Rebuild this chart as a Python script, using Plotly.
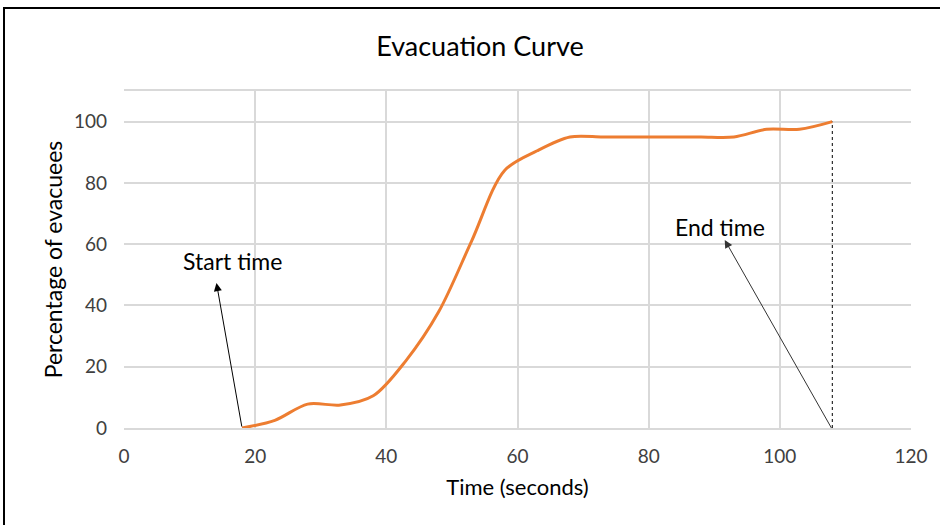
import plotly.graph_objects as go

# Evacuation progress over time
time_s = [18, 23, 28, 33, 38, 43, 48, 53, 58, 63, 68, 73, 78, 83, 88, 93, 98, 103, 108]
pct_evacuated = [0, 2.5, 7.8, 7.5, 10.5, 22, 38, 61, 84, 90.5, 95, 95, 95, 95, 95, 95, 97.5, 97.5, 100]

x_ticks = [0, 20, 40, 60, 80, 100, 120]
y_ticks = [0, 20, 40, 60, 80, 100]

start_time = time_s[0]
end_time = time_s[-1]

FONT = "Lato, 'Open Sans', sans-serif"
TICK_COLOR = "#404040"
GRID = "#d9d9d9"

fig = go.Figure()

fig.add_trace(go.Scatter(
    x=time_s, y=pct_evacuated, mode="lines",
    line=dict(color="#ed7d31", width=3, shape="spline", smoothing=0.9),
    hoverinfo="x+y", showlegend=False,
))

# dashed marker at the end time
fig.add_trace(go.Scatter(
    x=[end_time, end_time], y=[0, pct_evacuated[-1]], mode="lines",
    line=dict(color="black", width=1, dash="dot"),
    hoverinfo="skip", showlegend=False,
))

annotations = [
    # Start time arrow + label
    dict(x=14.1, y=47.3, ax=start_time, ay=0, xref="x", yref="y", axref="x", ayref="y",
         text="", showarrow=True, arrowhead=2, arrowsize=1.6, arrowwidth=1,
         arrowcolor="black", standoff=0, startstandoff=0),
    dict(x=16.5, y=54.5, xref="x", yref="y", text="Start time", showarrow=False,
         font=dict(family=FONT, size=23, color="black")),
    # End time arrow + label
    dict(x=91.6, y=61.4, ax=end_time, ay=-0.5, xref="x", yref="y", axref="x", ayref="y",
         text="", showarrow=True, arrowhead=2, arrowsize=1.6, arrowwidth=1,
         arrowcolor="#333333", standoff=0, startstandoff=0),
    dict(x=90.9, y=65.5, xref="x", yref="y", text="End time", showarrow=False,
         font=dict(family=FONT, size=23, color="black")),
]

fig.update_layout(
    width=940, height=525,
    margin=dict(l=124, r=29, t=91, b=97),
    paper_bgcolor="white", plot_bgcolor="white",
    title=dict(text="Evacuation Curve", x=480 / 940, xref="container", xanchor="center",
               y=1 - 47 / 525, yref="container", yanchor="middle",
               font=dict(family=FONT, size=27, color="black")),
    xaxis=dict(
        range=[0, 120], tickvals=x_ticks, ticktext=[str(v) for v in x_ticks],
        showgrid=True, gridcolor=GRID, gridwidth=1.5,
        showline=True, linecolor=GRID, linewidth=1.5, mirror=True,
        zeroline=False, ticks="", ticklabelstandoff=10,
        tickfont=dict(family=FONT, size=19, color=TICK_COLOR),
        title=dict(text="Time (seconds)", standoff=14,
                   font=dict(family=FONT, size=22, color="black")),
    ),
    yaxis=dict(
        range=[0, 110], tickvals=y_ticks, ticktext=[str(v) for v in y_ticks],
        showgrid=True, gridcolor=GRID, gridwidth=1.5,
        showline=False, zeroline=True, zerolinecolor="#bfbfbf", zerolinewidth=1.5,
        ticks="", ticklabelstandoff=16,
        tickfont=dict(family=FONT, size=19, color=TICK_COLOR),
        title=dict(text="Percentage of evacuees", standoff=4,
                   font=dict(family=FONT, size=23, color="black")),
    ),
    annotations=annotations,
    shapes=[dict(type="rect", xref="paper", yref="paper",
                 x0=(4 - 124) / 787, x1=(950 - 124) / 787,
                 y0=(428 - 540) / 337, y1=(428 - 8) / 337,
                 line=dict(color="black", width=2), layer="above")],
)

fig.write_html("out.html")
